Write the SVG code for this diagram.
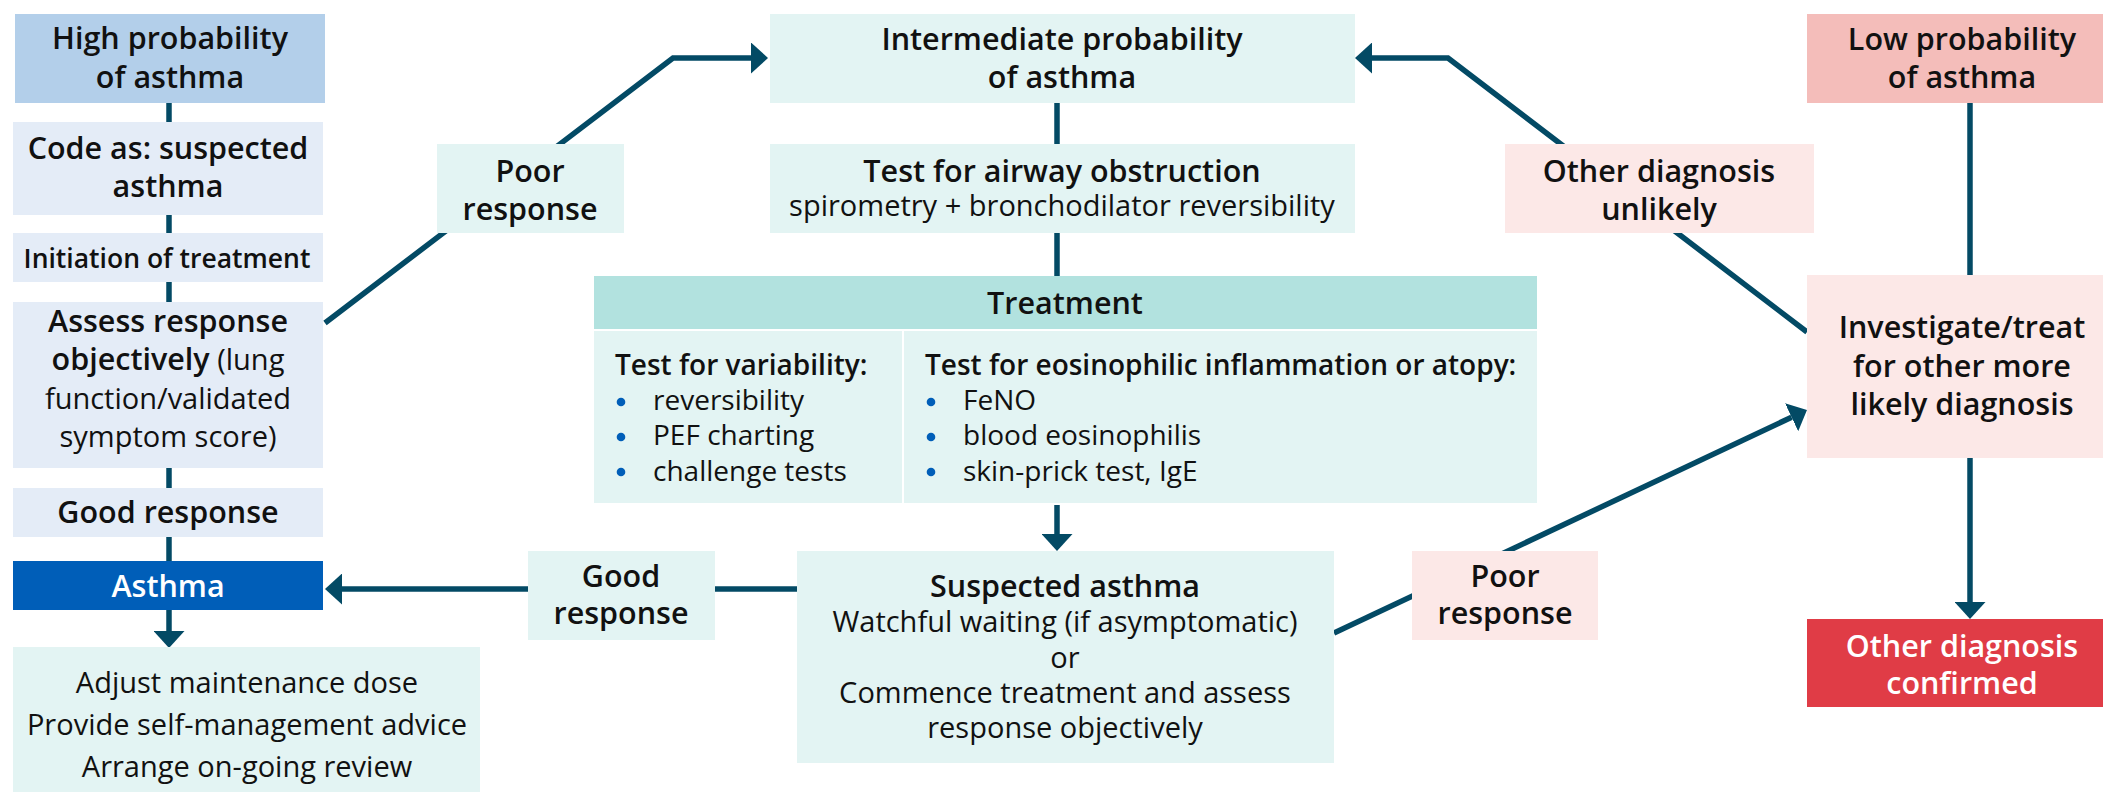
<svg xmlns="http://www.w3.org/2000/svg" width="2103" height="792" viewBox="0 0 2103 792">
<style>
text{font-family:"Open Sans","Liberation Sans",sans-serif;font-size:29px;fill:#111;text-anchor:middle}
.b{font-weight:600;font-size:30.5px}
.s{font-size:28px}
.sb{font-size:28px;font-weight:600}
.w{fill:#fff}
.l{text-anchor:start}
.bul{fill:#005EB8}
.ln{fill:none;stroke:#034A65;stroke-width:5.5}
.blue{fill:#B3CFEA}.pblue{fill:#E4ECF7}.dblue{fill:#005EB8}
.teal{fill:#E3F4F3}.hteal{fill:#B2E2DF}
.lpink{fill:#F4BDBA}.ppink{fill:#FCE8E7}.red{fill:#E03C46}
</style>
<defs>
<marker id="ah" markerUnits="userSpaceOnUse" markerWidth="17" markerHeight="31" refX="0" refY="15.5" orient="auto" viewBox="0 0 17 31">
<path d="M0,0 L17,15.5 L0,31 Z" fill="#034A65"/>
</marker>
</defs>
<g id="connectors">
<line class="ln" x1="169" y1="103" x2="169" y2="122"/>
<line class="ln" x1="169" y1="215" x2="169" y2="233"/>
<line class="ln" x1="169" y1="282" x2="169" y2="302"/>
<line class="ln" x1="169" y1="468" x2="169" y2="488"/>
<line class="ln" x1="169" y1="537" x2="169" y2="561"/>
<line class="ln" x1="169" y1="610" x2="169" y2="631" marker-end="url(#ah)"/>
<polyline class="ln" points="325,323 673,58 751,58" marker-end="url(#ah)"/>
<line class="ln" x1="1057" y1="103" x2="1057" y2="144"/>
<line class="ln" x1="1057" y1="233" x2="1057" y2="276"/>
<line class="ln" x1="1057" y1="505" x2="1057" y2="534" marker-end="url(#ah)"/>
<line class="ln" x1="797" y1="589" x2="342" y2="589" marker-end="url(#ah)"/>
<line class="ln" x1="1334" y1="633" x2="1791.6" y2="417.2" marker-end="url(#ah)"/>
<polyline class="ln" points="1807,332 1448,58 1372,58" marker-end="url(#ah)"/>
<line class="ln" x1="1970" y1="103" x2="1970" y2="275"/>
<line class="ln" x1="1970" y1="458" x2="1970" y2="602" marker-end="url(#ah)"/>
</g>
<g id="high-prob">
<rect class="blue" x="15" y="14" width="310" height="89"/>
<text class="b" x="170" y="49">High probability</text>
<text class="b" x="170" y="88">of asthma</text>
</g>
<g id="code-as">
<rect class="pblue" x="13" y="122" width="310" height="93"/>
<text class="b" x="168" y="159">Code as: suspected</text>
<text class="b" x="168" y="197">asthma</text>
</g>
<g id="initiation">
<rect class="pblue" x="13" y="233" width="310" height="49"/>
<text class="b" x="167" y="268" style="font-size:26.5px">Initiation of treatment</text>
</g>
<g id="assess">
<rect class="pblue" x="13" y="302" width="310" height="166"/>
<text class="b" x="168" y="332">Assess response</text>
<text x="168" y="370"><tspan class="b">objectively</tspan> (lung</text>
<text x="168" y="409">function/validated</text>
<text x="168" y="447">symptom score)</text>
</g>
<g id="good-response-left">
<rect class="pblue" x="13" y="488" width="310" height="49"/>
<text class="b" x="168" y="523">Good response</text>
</g>
<g id="asthma">
<rect class="dblue" x="13" y="561" width="310" height="49"/>
<text class="b w" x="168" y="597">Asthma</text>
</g>
<g id="maintenance">
<rect class="teal" x="13" y="647" width="467" height="145"/>
<text x="247" y="693">Adjust maintenance dose</text>
<text x="247" y="735">Provide self-management advice</text>
<text x="247" y="777">Arrange on-going review</text>
</g>
<g id="poor-response-label-left">
<rect class="teal" x="437" y="144" width="187" height="89"/>
<text class="b" x="530" y="182">Poor</text>
<text class="b" x="530" y="220">response</text>
</g>
<g id="intermediate">
<rect class="teal" x="770" y="14" width="585" height="89"/>
<text class="b" x="1062" y="50">Intermediate probability</text>
<text class="b" x="1062" y="88">of asthma</text>
</g>
<g id="airway-test">
<rect class="teal" x="770" y="144" width="585" height="89"/>
<text class="b" x="1062" y="182">Test for airway obstruction</text>
<text x="1062" y="216">spirometry + bronchodilator reversibility</text>
</g>
<g id="treatment">
<rect class="hteal" x="594" y="276" width="943" height="53"/>
<text class="b" x="1065" y="314">Treatment</text>
<rect class="teal" x="594" y="331" width="308" height="172"/>
<rect class="teal" x="904" y="331" width="633" height="172"/>
<text class="sb l" x="615" y="375">Test for variability:</text>
<circle class="bul" cx="621" cy="402" r="4.3"/>
<text class="s l" x="653" y="410">reversibility</text>
<circle class="bul" cx="621" cy="437" r="4.3"/>
<text class="s l" x="653" y="445">PEF charting</text>
<circle class="bul" cx="621" cy="472" r="4.3"/>
<text class="s l" x="653" y="481">challenge tests</text>
<text class="sb l" x="925" y="375">Test for eosinophilic inflammation or atopy:</text>
<circle class="bul" cx="931" cy="402" r="4.3"/>
<text class="s l" x="963" y="410">FeNO</text>
<circle class="bul" cx="931" cy="437" r="4.3"/>
<text class="s l" x="963" y="445">blood eosinophilis</text>
<circle class="bul" cx="931" cy="472" r="4.3"/>
<text class="s l" x="963" y="481">skin-prick test, IgE</text>
</g>
<g id="suspected">
<rect class="teal" x="797" y="551" width="537" height="212"/>
<text class="b" x="1065" y="597">Suspected asthma</text>
<text x="1065" y="632">Watchful waiting (if asymptomatic)</text>
<text x="1065" y="668">or</text>
<text x="1065" y="703">Commence treatment and assess</text>
<text x="1065" y="738">response objectively</text>
</g>
<g id="good-response-label">
<rect class="teal" x="528" y="551" width="187" height="89"/>
<text class="b" x="621" y="587">Good</text>
<text class="b" x="621" y="624">response</text>
</g>
<g id="poor-response-label-right">
<rect class="ppink" x="1412" y="551" width="186" height="89"/>
<text class="b" x="1505" y="587">Poor</text>
<text class="b" x="1505" y="624">response</text>
</g>
<g id="other-unlikely">
<rect class="ppink" x="1505" y="144" width="309" height="89"/>
<text class="b" x="1659" y="182">Other diagnosis</text>
<text class="b" x="1659" y="220">unlikely</text>
</g>
<g id="low-prob">
<rect class="lpink" x="1807" y="14" width="310" height="89"/>
<text class="b" x="1962" y="50">Low probability</text>
<text class="b" x="1962" y="88">of asthma</text>
</g>
<g id="investigate">
<rect class="ppink" x="1807" y="275" width="310" height="183"/>
<text class="b" x="1962" y="338">Investigate/treat</text>
<text class="b" x="1962" y="377">for other more</text>
<text class="b" x="1962" y="415">likely diagnosis</text>
</g>
<g id="other-confirmed">
<rect class="red" x="1807" y="619" width="310" height="88"/>
<text class="b w" x="1962" y="657">Other diagnosis</text>
<text class="b w" x="1962" y="694">confirmed</text>
</g>
</svg>
